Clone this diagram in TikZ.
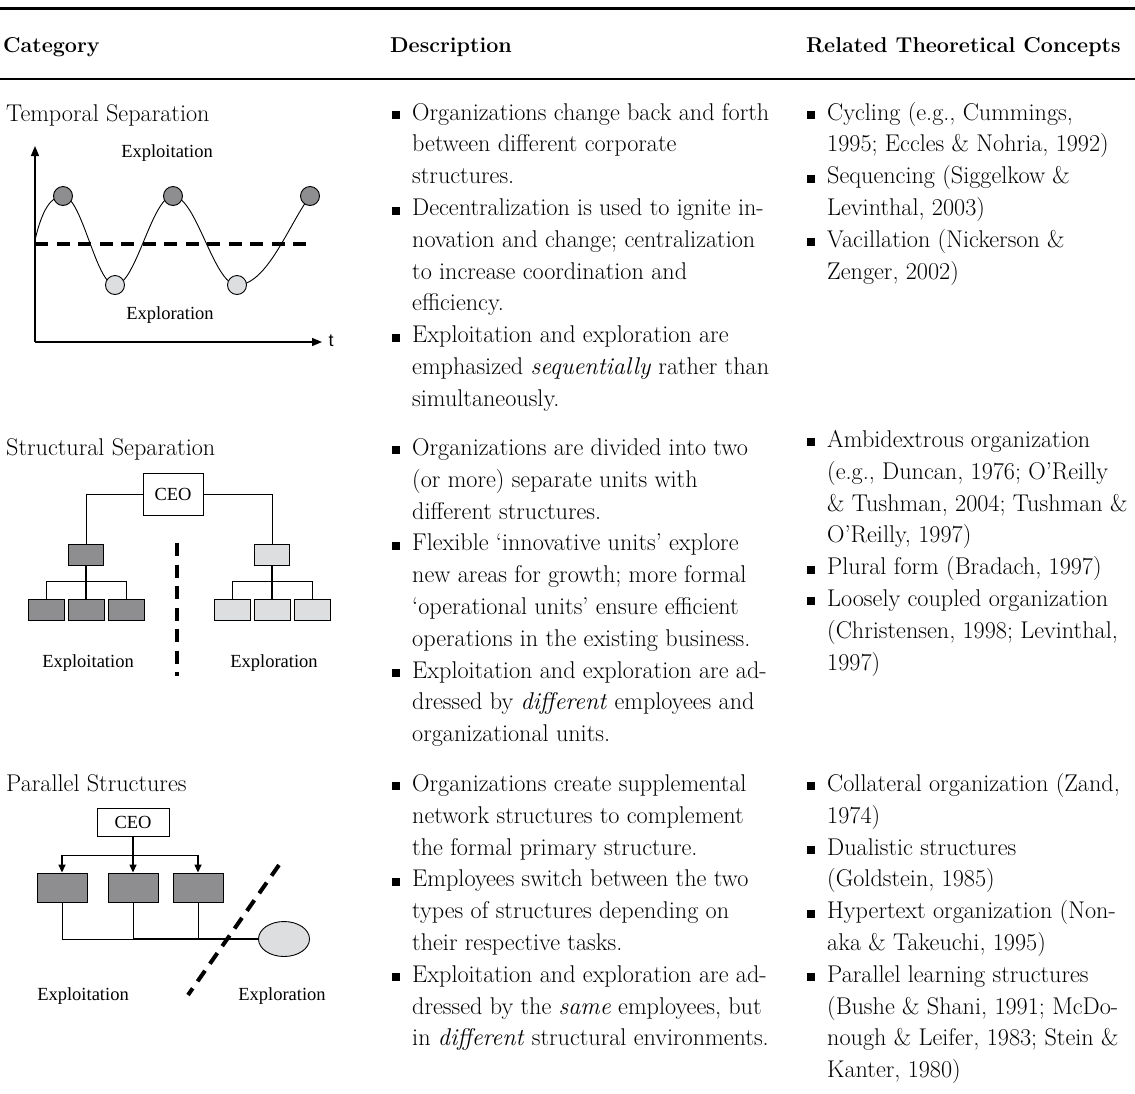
\documentclass[tikz,border=0pt]{standalone}
\usepackage{xcolor}
\usepackage{fontspec}
\newfontfamily\diagfont{Liberation Serif}
\newfontfamily\axisfont{Liberation Sans}
\definecolor{darkbox}{HTML}{8E8E91}
\definecolor{lightbox}{HTML}{DDDEE0}
\usepackage{tikz}
\usetikzlibrary{arrows.meta,backgrounds,shapes.geometric}

\newcommand{\tbul}{\strut\llap{\raisebox{1pt}{\rule{8pt}{8pt}}\hspace{12pt}}}

\begin{document}
\begin{tikzpicture}[x=1pt,y=-1pt,
    cell/.style={anchor=north west, inner sep=0pt, align=left, font=\fontsize{24.2}{31.8}\selectfont},
    label/.style={anchor=base west, inner sep=0pt, font=\fontsize{24.2}{31.8}\selectfont},
    head/.style={anchor=base west, inner sep=0pt, font=\fontsize{21.5}{25}\selectfont\bfseries},
    dlabel/.style={inner sep=0pt, font=\diagfont\fontsize{18.5}{22}\selectfont},
    ceobox/.style={draw, fill=white, line width=0.9pt, inner sep=0pt, font=\diagfont\fontsize{18.5}{22}\selectfont},
    unitdark/.style={draw, fill=darkbox, line width=0.9pt, inner sep=0pt},
    unitlight/.style={draw, fill=lightbox, line width=0.9pt, inner sep=0pt},
    conn/.style={line width=0.9pt},
    connthick/.style={line width=1.7pt},
    sepline/.style={line width=4pt, dash pattern=on 13pt off 8.5pt},
    axisline/.style={line width=1.4pt, -{Triangle[length=10pt,width=8pt]}},
    down/.style={line width=1.4pt, -{Triangle[length=8pt,width=7pt]}}]
\useasboundingbox (0,0) rectangle (1135,1093);

% table rules and heads
\coordinate (ruleAl) at (0,8);
\coordinate (ruleAr) at (1135,8);
\coordinate (ruleBl) at (0,79);
\coordinate (ruleBr) at (1135,79);
\draw[line width=3pt] (ruleAl) -- (ruleAr);
\draw[line width=2.2pt] (ruleBl) -- (ruleBr);
\node[head] (hcat) at (3,52) {Category};
\node[head] (hdesc) at (390,52) {Description};
\node[head] (hrel) at (806,52) {Related Theoretical Concepts};

% row 1: temporal separation
\node[label] (tempname) at (6,121) {Temporal Separation};
\node[cell] (tempdesc) at (412,97.7) {\tbul Organizations change back and forth\\
  between different corporate\\
  structures.\\
  \tbul Decentralization is used to ignite in-\\
  novation and change; centralization\\
  to increase coordination and\\
  efficiency.\\
  \tbul Exploitation and exploration are\\
  emphasized \textit{sequentially} rather than\\
  simultaneously.};
\node[cell] (temprel) at (827,97.7) {\tbul Cycling (e.g., Cummings,\\
  1995; Eccles \& Nohria, 1992)\\
  \tbul Sequencing (Siggelkow \&\\
  Levinthal, 2003)\\
  \tbul Vacillation (Nickerson \&\\
  Zenger, 2002)};

\coordinate (orig) at (35,342);
\coordinate (ytop) at (35,146);
\coordinate (xend) at (322,342);
\draw[axisline] (orig) -- (ytop);
\draw[axisline] (orig) -- (xend);
\node[inner sep=0pt, font=\axisfont\fontsize{18}{20}\selectfont] (tlab) at (331,341) {t};
\node[dlabel] (explt) at (167,153) {Exploitation};
\node[dlabel] (explr) at (170,315) {Exploration};
\coordinate (midl) at (35,244);
\coordinate (midr) at (312,244);
\draw[sepline] (midl) -- (midr);
\node[circle, minimum size=19pt, unitdark] (hi1) at (63,196) {};
\node[circle, minimum size=19pt, unitlight] (lo1) at (115,285) {};
\node[circle, minimum size=19pt, unitdark] (hi2) at (173,196) {};
\node[circle, minimum size=19pt, unitlight] (lo2) at (237,285) {};
\node[circle, minimum size=19pt, unitdark] (hi3) at (310,196) {};
\coordinate (wave0) at (35,240);
\begin{scope}[on background layer]
  \draw[conn] (wave0) .. controls +(7,-30) and +(-12,0) .. (hi1.center)
    .. controls +(19,0) and +(-19,0) .. (lo1.center)
    .. controls +(21,0) and +(-21,0) .. (hi2.center)
    .. controls +(23,0) and +(-23,0) .. (lo2.center)
    .. controls +(30,0) and +(-22,30) .. (hi3.center);
\end{scope}

% row 2: structural separation
\node[label] (structname) at (6,455) {Structural Separation};
\node[cell] (structdesc) at (412,433) {\tbul Organizations are divided into two\\
  (or more) separate units with\\
  different structures.\\
  \tbul Flexible `innovative units' explore\\
  new areas for growth; more formal\\
  `operational units' ensure efficient\\
  operations in the existing business.\\
  \tbul Exploitation and exploration are ad-\\
  dressed by \textit{different} employees and\\
  organizational units.};
\node[cell] (structrel) at (827,425) {\tbul Ambidextrous organization\\
  (e.g., Duncan, 1976; O'Reilly\\
  \& Tushman, 2004; Tushman \&\\
  O'Reilly, 1997)\\
  \tbul Plural form (Bradach, 1997)\\
  \tbul Loosely coupled organization\\
  (Christensen, 1998; Levinthal,\\
  1997)};

\node[ceobox, minimum width=60pt, minimum height=42pt] (ceoA) at (173,494) {CEO};
\node[unitdark, minimum width=35pt, minimum height=21pt] (exA) at (86,555) {};
\node[unitlight, minimum width=35pt, minimum height=21pt] (erA) at (272,555) {};
\node[unitdark, minimum width=36pt, minimum height=21pt] (exA1) at (46,609.5) {};
\node[unitdark, minimum width=36pt, minimum height=21pt] (exA2) at (86,609.5) {};
\node[unitdark, minimum width=36pt, minimum height=21pt] (exA3) at (126,609.5) {};
\node[unitlight, minimum width=36pt, minimum height=21pt] (erA1) at (232,609.5) {};
\node[unitlight, minimum width=36pt, minimum height=21pt] (erA2) at (272,609.5) {};
\node[unitlight, minimum width=36pt, minimum height=21pt] (erA3) at (312,609.5) {};
\draw[conn] (ceoA.west) -| (exA.north);
\draw[conn] (ceoA.east) -| (erA.north);
\draw[connthick] (exA.south) -- (exA2.north);
\draw[connthick] (erA.south) -- (erA2.north);
\draw[conn] (exA1.north) -- ++(0,-17) -| (exA3.north);
\draw[conn] (erA1.north) -- ++(0,-17) -| (erA3.north);
\coordinate (sepAt) at (177,543);
\coordinate (sepAb) at (177,676);
\draw[sepline] (sepAt) -- (sepAb);
\node[dlabel] (exAlab) at (88,663) {Exploitation};
\node[dlabel] (erAlab) at (274,663) {Exploration};

% row 3: parallel structures
\node[label] (paraname) at (6,791) {Parallel Structures};
\node[cell] (paradesc) at (412,769) {\tbul Organizations create supplemental\\
  network structures to complement\\
  the formal primary structure.\\
  \tbul Employees switch between the two\\
  types of structures depending on\\
  their respective tasks.\\
  \tbul Exploitation and exploration are ad-\\
  dressed by the \textit{same} employees, but\\
  in \textit{different} structural environments.};
\node[cell] (pararel) at (827,769) {\tbul Collateral organization (Zand,\\
  1974)\\
  \tbul Dualistic structures\\
  (Goldstein, 1985)\\
  \tbul Hypertext organization (Non-\\
  aka \& Takeuchi, 1995)\\
  \tbul Parallel learning structures\\
  (Bushe \& Shani, 1991; McDo-\\
  nough \& Leifer, 1983; Stein \&\\
  Kanter, 1980)};

\node[ceobox, minimum width=72pt, minimum height=28pt] (ceoB) at (133,822) {CEO};
\node[unitdark, minimum width=50pt, minimum height=29pt] (pbA) at (62,887.5) {};
\node[unitdark, minimum width=50pt, minimum height=29pt] (pbB) at (133,887.5) {};
\node[unitdark, minimum width=50pt, minimum height=29pt] (pbC) at (198,887.5) {};
\node[ellipse, draw, fill=lightbox, line width=0.9pt, minimum width=51pt, minimum height=35pt, inner sep=0pt] (net) at (284,939) {};
\draw[down] (ceoB.south) -- (pbB.north);
\draw[down] (ceoB.south) -- ++(0,19) -| (pbA.north);
\draw[down] (ceoB.south) -- ++(0,19) -| (pbC.north);
\draw[conn] (pbA.south) |- (pbB.south |- net.west);
\draw[conn] (pbB.south) -- (pbB.south |- net.west);
\draw[conn] (pbC.south) -- (pbC.south |- net.west);
\draw[connthick] (pbB.south |- net.west) -- (net.west);
\coordinate (sepBt) at (279,865);
\coordinate (sepBb) at (188,995);
\draw[sepline] (sepBt) -- (sepBb);
\node[dlabel] (exBlab) at (83,996) {Exploitation};
\node[dlabel] (erBlab) at (282,996) {Exploration};
\end{tikzpicture}
\end{document}
